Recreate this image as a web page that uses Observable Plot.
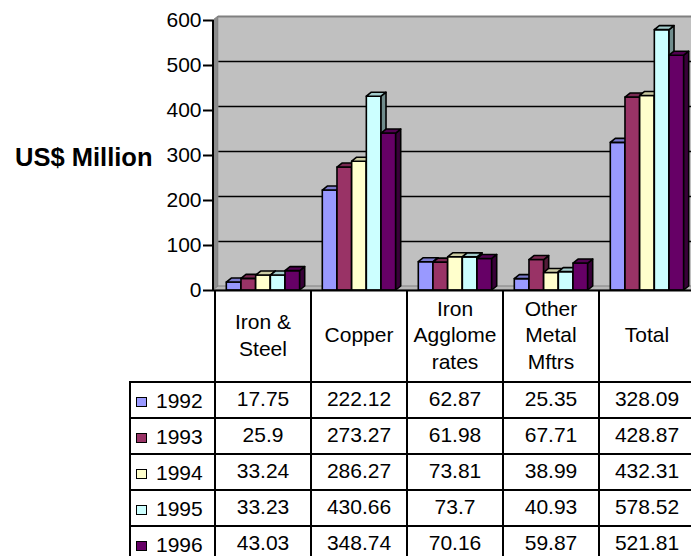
<!DOCTYPE html>
<html><head><meta charset="utf-8">
<script src="https://cdn.jsdelivr.net/npm/d3@7"></script>
<script src="https://cdn.jsdelivr.net/npm/@observablehq/plot@0.6"></script>
<style>
html,body{margin:0;padding:0;background:#fff;overflow:hidden;}
#wrap{position:relative;width:691px;height:556px;overflow:hidden;font-family:"Liberation Sans",Arial,sans-serif;color:#000;background:#fff;}
#wrap svg{position:absolute;left:0;top:0;}
.ln{position:absolute;background:#000;}
.tx{position:absolute;display:flex;flex-direction:column;align-items:center;justify-content:center;text-align:center;font-size:21px;line-height:26.7px;white-space:nowrap;}
.yr{position:absolute;font-size:21px;line-height:26.7px;white-space:nowrap;}
.sq{position:absolute;box-sizing:border-box;width:10.5px;height:10.5px;border:1.6px solid #000;}
</style></head><body><div id="wrap"></div>
<script>
const categories = ["Iron & Steel", "Copper", "Iron Agglomerates", "Other Metal Mftrs", "Total"];
const headerLines = [["Iron &", "Steel"], ["Copper"], ["Iron", "Agglome", "rates"], ["Other", "Metal", "Mftrs"], ["Total"]];
const years = ["1992", "1993", "1994", "1995", "1996"];
const colors = ["#9999FF", "#993366", "#FFFFCC", "#CCFFFF", "#660066"];
const v1992 = [17.75, 222.12, 62.87, 25.35, 328.09];
const v1993 = [25.9, 273.27, 61.98, 67.71, 428.87];
const v1994 = [33.24, 286.27, 73.81, 38.99, 432.31];
const v1995 = [33.23, 430.66, 73.7, 40.93, 578.52];
const v1996 = [43.03, 348.74, 70.16, 59.87, 521.81];
const yTicks = [0, 100, 200, 300, 400, 500, 600];
const yLabel = "US$ Million";

const series = [v1992, v1993, v1994, v1995, v1996];
const rows = [];
categories.forEach((cat, ci) => years.forEach((year, yi) => rows.push({cat, year, value: series[yi][ci]})));

const DX = 5, DY = 4;
function shade(c, k) { const r = d3.rgb(c); return d3.rgb(r.r * k, r.g * k, r.b * k).toString(); }

function decor(index, scales, values, dimensions) {
  const L = dimensions.marginLeft, R = dimensions.width - dimensions.marginRight + 10;
  const y0 = scales.y(0), yT = scales.y(600);
  const g = d3.create("svg:g");
  g.append("polygon").attr("points", [[L, y0], [L + DX, y0 - DY], [L + DX, yT - DY], [L, yT]].join(" "))
    .attr("fill", "#8c8c8c").attr("stroke", "#808080").attr("stroke-width", 1);
  g.append("polygon").attr("points", [[L, y0], [L + DX, y0 - DY], [R + DX, y0 - DY], [R, y0]].join(" "))
    .attr("fill", "#b8b8b8").attr("stroke", "#808080").attr("stroke-width", 1);
  return g.node();
}
function axisLine(index, scales, values, dimensions) {
  const L = dimensions.marginLeft;
  const g = d3.create("svg:g");
  g.append("line").attr("x1", L).attr("x2", L).attr("y1", scales.y(600)).attr("y2", scales.y(0))
    .attr("stroke", "black").attr("stroke-width", 2);
  return g.node();
}
function bars3d(index, scales, values, dimensions) {
  const bw = scales.x.bandwidth();
  const sub = d3.scaleBand(years, [0, bw]).paddingInner(0).paddingOuter(0.77);
  const w = sub.bandwidth();
  const g = d3.create("svg:g").attr("stroke", "black").attr("stroke-width", 1.6).attr("stroke-linejoin", "round");
  for (const i of index) {
    const x = values.x[i] + sub(rows[i].year);
    const yb = values.y1[i], yt = values.y2[i];
    const c = values.fill ? values.fill[i] : colors[years.indexOf(rows[i].year)];
    g.append("rect").attr("x", x).attr("y", yt).attr("width", w).attr("height", yb - yt).attr("fill", c);
    g.append("polygon").attr("points", [[x + w, yb], [x + w + DX, yb - DY], [x + w + DX, yt - DY], [x + w, yt]].join(" ")).attr("fill", shade(c, 0.55));
    g.append("polygon").attr("points", [[x, yt], [x + DX, yt - DY], [x + w + DX, yt - DY], [x + w, yt]].join(" ")).attr("fill", shade(c, 0.8));
  }
  return g.node();
}

const FONT = '"Liberation Sans", Arial, sans-serif';
const chart = Plot.plot({
  width: 691, height: 292,
  marginLeft: 213, marginRight: 0, marginTop: 20, marginBottom: 2,
  style: {fontFamily: FONT, fontSize: "21px", background: "transparent", overflow: "visible", maxWidth: "none", color: "black"},
  x: {type: "band", domain: categories, range: [213, 697.5], padding: 0, axis: null},
  y: {domain: [0, 600], axis: null},
  color: {domain: years, range: colors},
  marks: [
    Plot.frame({fill: "#C0C0C0", stroke: "none", dx: DX, dy: -DY}),
    Plot.ruleY(yTicks.filter(d => d > 0 && d < 600), {stroke: "black", strokeWidth: 1.6, dx: DX, dy: -DY}),
    Plot.ruleY([600], {stroke: "#808080", strokeWidth: 2, dx: DX, dy: -DY}),
    decor,
    Plot.barY(rows, {x: "cat", y1: 0, y2: "value", fill: "year", render: bars3d}),
    Plot.axisY({ticks: yTicks, tickSize: 10, tickPadding: 2, fontSize: 21, strokeWidth: 2, label: null, tickFormat: d => String(d)}),
    axisLine,
    Plot.ruleY([0], {stroke: "black", strokeWidth: 2}),
    Plot.text([yLabel], {text: d => d, frameAnchor: "left", textAnchor: "end", dx: -61, dy: 2, fontWeight: "bold", fontSize: 25.5})
  ]
});
const wrap = document.getElementById("wrap");
wrap.appendChild(chart);

// data table below the plot, aligned with the x scale
const xs = chart.scale("x");
const bw = xs.bandwidth;
const top0 = chart.scale("y").apply(0);
const hdrBottom = top0 + 91.5;
const rowH = 36;
const tableLeft = 130;
const bottom = 560;
function line(x, y, w, h) {
  const d = document.createElement("div"); d.className = "ln";
  Object.assign(d.style, {left: x + "px", top: y + "px", width: w + "px", height: h + "px"});
  wrap.appendChild(d);
}
for (let k = 0; k < years.length; k++) line(tableLeft - 1, hdrBottom + k * rowH - 1, 700 - tableLeft, 2);
line(tableLeft - 1, hdrBottom - 1, 2, bottom - hdrBottom);
categories.forEach((c) => line(xs.apply(c) - 1, top0, 2, bottom - top0));

categories.forEach((c, ci) => {
  const d = document.createElement("div"); d.className = "tx";
  Object.assign(d.style, {left: xs.apply(c) + "px", top: top0 + "px", width: bw + "px", height: (hdrBottom - top0) + "px"});
  headerLines[ci].forEach(t => { const s = document.createElement("div"); s.textContent = t; d.appendChild(s); });
  wrap.appendChild(d);
});
years.forEach((yr, yi) => {
  const cy = hdrBottom + yi * rowH + rowH / 2;
  const sq = document.createElement("div"); sq.className = "sq";
  Object.assign(sq.style, {left: "136px", top: (cy + 2.5 - 5.25) + "px", background: colors[yi]});
  wrap.appendChild(sq);
  const t = document.createElement("div"); t.className = "yr"; t.textContent = yr;
  Object.assign(t.style, {left: "156px", top: (cy + 1.5 - 13.35) + "px"});
  wrap.appendChild(t);
  categories.forEach((c, ci) => {
    const d = document.createElement("div"); d.className = "tx"; d.textContent = String(series[yi][ci]);
    Object.assign(d.style, {left: xs.apply(c) + "px", top: (cy - 13.35) + "px", width: bw + "px", height: "26.7px"});
    wrap.appendChild(d);
  });
});
</script></body></html>
